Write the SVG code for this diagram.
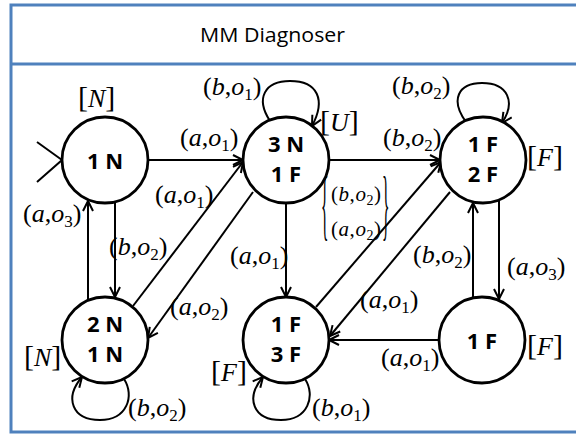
<svg xmlns="http://www.w3.org/2000/svg" width="576" height="434" viewBox="0 0 576 434">
<defs>
<marker id="ah" markerUnits="userSpaceOnUse" markerWidth="14" markerHeight="14" refX="11" refY="6" orient="auto">
<path d="M1,1 L11,6 L1,11" fill="none" stroke="#000" stroke-width="2"/>
</marker>
<style>
.frame{fill:none;stroke:#4f81bd;stroke-width:3}
.node{fill:#fff;stroke:#000;stroke-width:2.8}
.nt{font-family:"Open Sans","DejaVu Sans",sans-serif;font-weight:bold;font-size:22px;fill:#000;text-anchor:middle}
.e{fill:none;stroke:#000;stroke-width:2;marker-end:url(#ah)}
.ln{fill:none;stroke:#000;stroke-width:2}
.l{font-family:"Liberation Serif","Times New Roman",serif;font-size:26px;fill:#000}
.i{font-style:italic}
.s{font-size:17px}
.b{font-family:"Liberation Serif","Times New Roman",serif;font-size:30px;fill:#000}
.bl{font-size:26px;font-style:italic}
.sm{font-family:"Liberation Serif","Times New Roman",serif;font-size:21px;fill:#000}
.s2{font-size:14px}
.br{font-family:"Liberation Serif","Times New Roman",serif;font-size:78px;fill:#000}
.title{font-family:"Open Sans","Liberation Sans",sans-serif;font-size:20px;fill:#000}
</style>
</defs>
<rect width="576" height="434" fill="#fff"/>
<g id="frame">
<path class="frame" d="M578,5 H11 V432 H578"/>
<line class="frame" x1="11" y1="64" x2="578" y2="64"/>
<text class="title" x="200" y="42" textLength="145" lengthAdjust="spacingAndGlyphs">MM Diagnoser</text>
</g>
<g id="connectors">
<path class="ln" d="M37,142 L62,160 L37,182"/>
<line class="e" x1="148" y1="160" x2="243" y2="160"/>
<line class="e" x1="133" y1="306" x2="243" y2="162"/>
<line class="e" x1="253" y1="192" x2="148" y2="338"/>
<line class="e" x1="115" y1="202" x2="115" y2="297"/>
<line class="e" x1="88" y1="300" x2="88" y2="201"/>
<line class="e" x1="286" y1="203" x2="286" y2="297"/>
<line class="e" x1="329" y1="160" x2="440" y2="160"/>
<line class="e" x1="316" y1="307" x2="441" y2="162"/>
<line class="e" x1="450" y1="192" x2="330" y2="336"/>
<line class="e" x1="473" y1="298" x2="473" y2="203"/>
<line class="e" x1="499" y1="200" x2="499" y2="299"/>
<line class="e" x1="439" y1="340" x2="329" y2="340"/>
<path class="e" d="M270,121 C255,98 265,81 290,81 C318,81 326,100 312,126"/>
<path class="e" d="M466,122 C450,100 458,83 482,83 C508,83 516,102 502,123"/>
<path class="e" d="M124,379 C135,396 127,420 100,420 C72,420 64,398 82,377"/>
<path class="e" d="M305,379 C316,396 308,420 281,420 C253,420 245,398 263,377"/>
</g>
<g id="n1N">
<circle class="node" cx="105" cy="160" r="43"/>
<text class="nt" x="105" y="169">1 N</text>
</g>
<g id="n3N1F">
<circle class="node" cx="286" cy="160" r="43"/>
<text class="nt" x="286" y="152">3 N</text>
<text class="nt" x="286" y="182">1 F</text>
</g>
<g id="n1F2F">
<circle class="node" cx="483" cy="160" r="43"/>
<text class="nt" x="483" y="152">1 F</text>
<text class="nt" x="483" y="182">2 F</text>
</g>
<g id="n2N1N">
<circle class="node" cx="105" cy="340" r="43"/>
<text class="nt" x="105" y="332">2 N</text>
<text class="nt" x="105" y="362">1 N</text>
</g>
<g id="n1F3F">
<circle class="node" cx="286" cy="340" r="43"/>
<text class="nt" x="286" y="332">1 F</text>
<text class="nt" x="286" y="362">3 F</text>
</g>
<g id="n1F">
<circle class="node" cx="482" cy="340" r="43"/>
<text class="nt" x="482" y="349">1 F</text>
</g>
<g id="labels">
<text class="l" x="180" y="146">(<tspan class="i">a</tspan>,<tspan class="i">o</tspan><tspan class="s" dy="5">1</tspan><tspan dy="-5">)</tspan></text>
<text class="l" x="203" y="95">(<tspan class="i">b</tspan>,<tspan class="i">o</tspan><tspan class="s" dy="5">1</tspan><tspan dy="-5">)</tspan></text>
<text class="l" x="383" y="146">(<tspan class="i">b</tspan>,<tspan class="i">o</tspan><tspan class="s" dy="5">2</tspan><tspan dy="-5">)</tspan></text>
<text class="l" x="392" y="94">(<tspan class="i">b</tspan>,<tspan class="i">o</tspan><tspan class="s" dy="5">2</tspan><tspan dy="-5">)</tspan></text>
<text class="l" x="23" y="222">(<tspan class="i">a</tspan>,<tspan class="i">o</tspan><tspan class="s" dy="5">3</tspan><tspan dy="-5">)</tspan></text>
<text class="l" x="109" y="255">(<tspan class="i">b</tspan>,<tspan class="i">o</tspan><tspan class="s" dy="5">2</tspan><tspan dy="-5">)</tspan></text>
<text class="l" x="155" y="203">(<tspan class="i">a</tspan>,<tspan class="i">o</tspan><tspan class="s" dy="5">1</tspan><tspan dy="-5">)</tspan></text>
<text class="l" x="230" y="264">(<tspan class="i">a</tspan>,<tspan class="i">o</tspan><tspan class="s" dy="5">1</tspan><tspan dy="-5">)</tspan></text>
<text class="l" x="413" y="263">(<tspan class="i">b</tspan>,<tspan class="i">o</tspan><tspan class="s" dy="5">2</tspan><tspan dy="-5">)</tspan></text>
<text class="l" x="507" y="275">(<tspan class="i">a</tspan>,<tspan class="i">o</tspan><tspan class="s" dy="5">3</tspan><tspan dy="-5">)</tspan></text>
<text class="l" x="170" y="315">(<tspan class="i">a</tspan>,<tspan class="i">o</tspan><tspan class="s" dy="5">2</tspan><tspan dy="-5">)</tspan></text>
<text class="l" x="360" y="308">(<tspan class="i">a</tspan>,<tspan class="i">o</tspan><tspan class="s" dy="5">1</tspan><tspan dy="-5">)</tspan></text>
<text class="l" x="381" y="366">(<tspan class="i">a</tspan>,<tspan class="i">o</tspan><tspan class="s" dy="5">1</tspan><tspan dy="-5">)</tspan></text>
<text class="l" x="128" y="416">(<tspan class="i">b</tspan>,<tspan class="i">o</tspan><tspan class="s" dy="5">2</tspan><tspan dy="-5">)</tspan></text>
<text class="l" x="312" y="416">(<tspan class="i">b</tspan>,<tspan class="i">o</tspan><tspan class="s" dy="5">1</tspan><tspan dy="-5">)</tspan></text>
<text class="sm" x="331" y="201" textLength="50">(<tspan class="i">b</tspan>,<tspan class="i">o</tspan><tspan class="s2" dy="4">2</tspan><tspan dy="-4">)</tspan></text>
<text class="sm" x="331" y="236" textLength="50">(<tspan class="i">a</tspan>,<tspan class="i">o</tspan><tspan class="s2" dy="4">2</tspan><tspan dy="-4">)</tspan></text>
<text class="br" transform="translate(321,231) scale(0.2,1)">{</text>
<text class="br" transform="translate(382,231) scale(0.2,1)">}</text>
<text class="b" x="78" y="107">[<tspan class="bl">N</tspan>]</text>
<text class="b" x="320" y="131">[<tspan class="bl">U</tspan>]</text>
<text class="b" x="527" y="166">[<tspan class="bl">F</tspan>]</text>
<text class="b" x="527" y="355">[<tspan class="bl">F</tspan>]</text>
<text class="b" x="24" y="366">[<tspan class="bl">N</tspan>]</text>
<text class="b" x="211" y="381">[<tspan class="bl">F</tspan>]</text>
</g>
</svg>
